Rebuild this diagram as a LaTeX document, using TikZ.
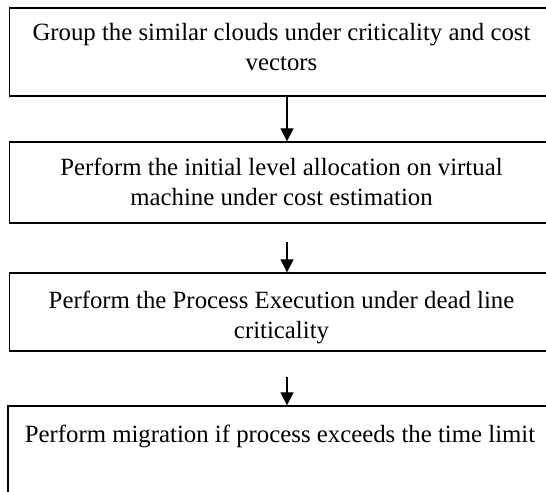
\documentclass[tikz,border=0pt]{standalone}
\usepackage{fontspec}
\setmainfont{Liberation Serif}
\usetikzlibrary{arrows.meta}
\newcommand\natspace{\spaceskip 0.25em\relax}
\tikzset{
	procbox/.style={draw, line width=1.3pt, text width=544pt, inner xsep=0pt, inner ysep=0pt, align=center, font=\fontsize{24.8}{30}\selectfont, execute at begin node={\natspace}},
	flowarrow/.style={line width=1.2pt, -{Triangle[length=13pt,width=13pt]}}
}

\begin{document}
\begin{tikzpicture}[x=1pt, y=-1pt]
		%%%%% START %%%%%
		
		\useasboundingbox (0, 0) rectangle (546, 491);
		\clip (0, 0) rectangle (546, 491);
		
		\node[procbox, text height=32pt, text depth=56pt] (group) at (281.5, 52) {Group the similar clouds under criticality and cost\\vectors};
		\node[procbox, text height=33pt, text depth=48pt] (alloc) at (281.5, 182.5) {Perform the initial level allocation on virtual\\machine under cost estimation};
		\node[procbox, text height=35pt, text depth=43pt] (exec) at (281.5, 312) {Perform the Process Execution under dead line\\criticality};
		\node[procbox, text height=36pt, text depth=80pt] (migr) at (280, 464) {Perform migration if process exceeds the time limit};
		
		\coordinate (axis) at (287, 0);
		\coordinate (start2) at (287, 242);
		\coordinate (start3) at (287, 377);
		
		\draw[flowarrow] (group.south -| axis) -- (alloc.north -| axis);
		\draw[flowarrow] (start2) -- (exec.north -| start2);
		\draw[flowarrow] (start3) -- (migr.north -| start3);
		
		%%%%% END %%%%%
	\end{tikzpicture}
\end{document}
